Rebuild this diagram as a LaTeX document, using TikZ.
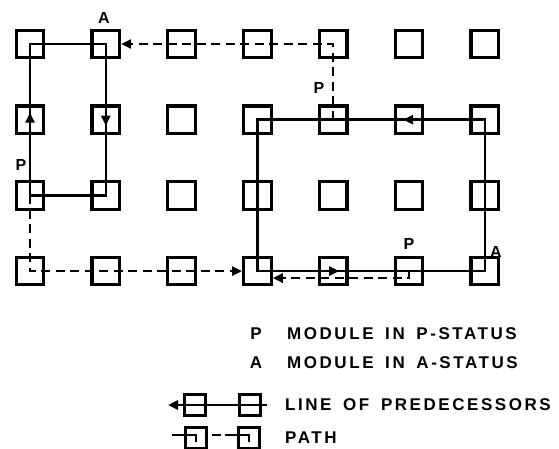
\documentclass[tikz,border=0pt]{standalone}
\usepackage{fontspec}
\setmainfont{Liberation Sans}
\newfontfamily\legfont[LetterSpace=15,WordSpace=1.6]{Liberation Sans}
\usetikzlibrary{arrows.meta,calc}
\begin{document}
\begin{tikzpicture}[x=1pt,y=-1pt,
  module/.style={draw, line width=3.2pt, minimum size=27.5pt, inner sep=0pt},
  legbox/.style={draw, line width=2.8pt, minimum size=20.5pt, inner sep=0pt},
  pred/.style={line width=2.5pt, line join=miter},
  pathln/.style={line width=2.5pt, dash pattern=on 9pt off 5.5pt},
  tip/.style={-{Triangle[length=10pt,width=9pt]}},
  lbl/.style={font=\fontsize{16}{16}\selectfont\bfseries, inner sep=0pt},
  legtxt/.style={font=\legfont\bfseries\fontsize{17}{17}\selectfont, anchor=west, inner sep=0pt},
  legkey/.style={font=\fontsize{17}{17}\selectfont\bfseries, inner sep=0pt}
]
\useasboundingbox (0,0) rectangle (559,449);

% grid of modules
\foreach \c in {0,...,6}{
  \foreach \r in {0,...,3}{
    \node[module] (m\c\r) at ({30+75.8*\c},{44+75.7*\r}) {};
  }
}

% left line of predecessors
\draw[pred] (m00.center) -- (m10.center) -- (m12.center) -- (m02.center) -- cycle;
\draw[pred,tip] ($(m01.center)+(0,5)$) -- ($(m01.center)+(0,-7)$);
\draw[pred,tip] ($(m11.center)+(0,-6)$) -- ($(m11.center)+(0,6)$);

% right line of predecessors
\draw[pred] (m31.center) -- (m33.center) -- (m63.center) -- (m61.center) -- cycle;
\draw[pred,tip] ($(m43.center)+(-6,0)$) -- ($(m43.center)+(6,0)$);
\draw[pred,tip] ($(m51.center)+(6,0)$) -- ($(m51.center)+(-6,0)$);

% paths
\draw[pathln,tip] (m41.center) -- (m40.center) -- (m10.east);
\draw[pathln,tip] (m02.center) -- (m03.center) -- (m33.west);
\coordinate (h53) at ($(m53.center)+(0,7)$);
\coordinate (h33) at ($(m33.east)+(0,7)$);
\draw[pathln,tip] (m53.center) -- (h53) -- (h33);

% status labels
\node[lbl] (lA1) at (104,18) {A};
\node[lbl] (lP1) at (21,165) {P};
\node[lbl] (lP2) at (319,88) {P};
\node[lbl] (lP3) at (409,244) {P};
\node[lbl] (lA2) at (496,252) {A};

% legend
\node[legkey] (kP) at (256,334) {P};
\node[legtxt] (kPt) at (287,334) {MODULE IN P-STATUS};
\node[legkey] (kA) at (256,363) {A};
\node[legtxt] (kAt) at (287,363) {MODULE IN A-STATUS};

\node[legbox] (kb1) at (195,405) {};
\node[legbox] (kb2) at (250,405) {};
\coordinate (kl) at (168,405);
\coordinate (kr) at (267,405);
\draw[pred,tip] (kr) -- (kb2.center) -- (kb1.center) -- (kl);
\node[legtxt] (kLt) at (285,405) {LINE OF PREDECESSORS};

\node[legbox] (kc1) at (196,438) {};
\node[legbox] (kc2) at (249,438) {};
\coordinate (kc1a) at ($(kc1.west)+(-12,-3)$);
\coordinate (kc1b) at ($(kc1.center)+(0,-3)$);
\coordinate (kc1c) at ($(kc1.center)+(0,4)$);
\coordinate (kc2a) at ($(kc2.west)+(-12,-3)$);
\coordinate (kc2b) at ($(kc2.center)+(0,-3)$);
\coordinate (kc2c) at ($(kc2.center)+(0,4)$);
\coordinate (kd1) at ($(kc1.east)+(4,-3)$);
\coordinate (kd2) at ($(kc2.west)+(-16,-3)$);
\draw[pred] (kc1a) -- (kc1b) -- (kc1c);
\draw[pred] (kc2a) -- (kc2b) -- (kc2c);
\draw[pred] (kd1) -- (kd2);
\node[legtxt] (kPa) at (285,438) {PATH};
\end{tikzpicture}
\end{document}
